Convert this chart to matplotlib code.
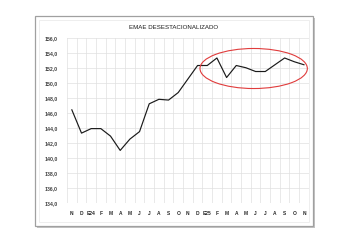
import matplotlib
matplotlib.use("Agg")
import matplotlib.pyplot as plt
from matplotlib.patches import Ellipse, Rectangle
import numpy as np

title = "EMAE DESESTACIONALIZADO"
months = ["N", "D", "E24", "F", "M", "A", "M", "J", "J", "A", "S", "O", "N",
          "D", "E25", "F", "M", "A", "M", "J", "J", "A", "S", "O", "N"]
values = [146.4, 143.3, 143.9, 143.9, 142.9, 141.0, 142.5, 143.5, 147.2, 147.8,
          147.7, 148.7, 150.5, 152.3, 152.3, 153.3, 150.7, 152.3, 152.0, 151.5,
          151.5, 152.4, 153.3, 152.8, 152.4]
y_ticks = [134, 136, 138, 140, 142, 144, 146, 148, 150, 152, 154, 156]
y_tick_labels = [f"{v:.1f}".replace(".", ",") for v in y_ticks]

plt.rcParams["font.family"] = ["Liberation Sans Narrow", "Liberation Sans", "DejaVu Sans"]

fig = plt.figure(figsize=(3.5, 2.43), dpi=100)
fig.patch.set_facecolor("white")

W, H = 350, 243
def rect(x0, y0, x1, y1, **kw):
    return Rectangle((x0 / W, 1 - y1 / H), (x1 - x0) / W, (y1 - y0) / H,
                     transform=fig.transFigure, **kw)

# outer chart frame with shadow
fig.patches.append(rect(37, 18, 315, 228, facecolor="#c4c4c4", edgecolor="none", zorder=0))
fig.patches.append(rect(35, 16, 313, 226, facecolor="white", edgecolor="#a0a0a0",
                        linewidth=0.9, zorder=1))
fig.patches.append(rect(39, 20, 309, 222, facecolor="white", edgecolor="#e8e8e8",
                        linewidth=0.5, zorder=1))

ax = fig.add_axes([67 / W, 1 - 203 / H, (308.8 - 67) / W, (203 - 37.7) / H])
ax.set_zorder(2)
x = np.arange(len(months))
ax.plot(x, values, color="#1a1a1a", linewidth=0.85, zorder=3)

ax.set_xlim(-0.5, len(months) - 0.5)
ax.set_ylim(134, 156)
ax.set_xticks(x)
ax.set_xticklabels(months, fontsize=3.5, fontweight="bold", color="#262626")
ax.set_yticks(y_ticks)
ax.set_yticklabels(y_tick_labels, fontsize=3.7, fontweight="bold", color="#404040")
ax.set_xticks(np.arange(-0.5, len(months)), minor=True)
ax.tick_params(axis="x", which="major", length=0, pad=5.5)
ax.tick_params(axis="x", which="minor", length=0)
ax.tick_params(axis="y", length=0, pad=6.5)
ax.grid(True, axis="y", color="#e0e0e0", linewidth=0.5)
ax.grid(True, axis="x", which="minor", color="#e0e0e0", linewidth=0.5)
for s in ax.spines.values():
    s.set_visible(False)
ax.set_facecolor("none")

ell = Ellipse((18.8, 151.9), 11.1, 5.33, facecolor="none", edgecolor="#e03c3c",
              linewidth=0.8, zorder=4, clip_on=False)
ax.add_patch(ell)

fig.text(174 / W, 1 - 27.5 / H, title, ha="center", va="center", fontsize=4.4, color="#1a1a1a")

fig.savefig("out.png", dpi=100)
